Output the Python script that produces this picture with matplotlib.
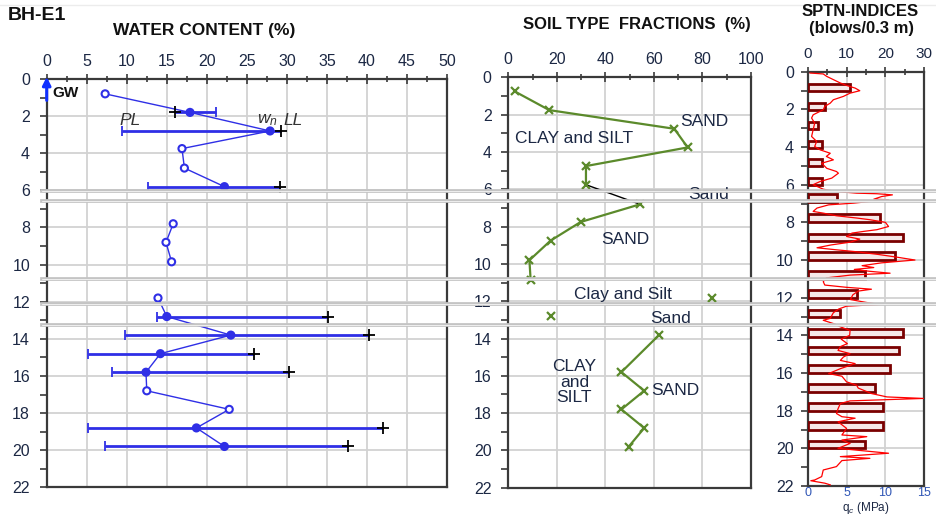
import numpy as np
import matplotlib
matplotlib.use("Agg")
import matplotlib.pyplot as plt
from matplotlib.lines import Line2D
import matplotlib.transforms as mtransforms
from matplotlib.ticker import MultipleLocator

plt.rcParams['font.family'] = ['Liberation Sans', 'DejaVu Sans']
plt.rcParams['mathtext.fontset'] = 'custom'
plt.rcParams['mathtext.rm'] = 'Liberation Sans'
plt.rcParams['mathtext.it'] = 'Liberation Sans:italic'

# ---------------- data ----------------
# Water content panel
wc_depth = [0.8, 1.8, 2.8, 3.75, 4.8, 5.8, 7.8, 8.8, 9.85, 11.8, 12.8, 13.8, 14.8, 15.8, 16.8, 17.8, 18.8, 19.8]
wc_value = [7.3, 17.9, 27.9, 16.9, 17.2, 22.2, 15.8, 14.9, 15.6, 13.9, 15.0, 23.0, 14.2, 12.4, 12.5, 22.8, 18.7, 22.2]
wc_group = [1, 1, 1, 1, 1, 1, 2, 2, 2, 3, 3, 3, 3, 3, 3, 3, 3, 3]

atl_depth = [1.8, 2.8, 5.8, 12.8, 13.8, 14.8, 15.8, 18.8, 19.8]
pl_value = [21.1, 9.4, 12.6, 13.8, 9.8, 5.1, 8.1, 5.1, 7.3]
ll_value = [16.0, 29.3, 29.2, 35.1, 40.2, 25.9, 30.3, 42.0, 37.6]

# Soil type fractions panel (sand fraction, %)
soil_depth = [0.75, 1.75, 2.75, 3.75, 4.75, 5.75,
              6.8, 7.75, 8.75, 9.8, 10.85,
              11.8, 12.8,
              13.8, 15.8, 16.8, 17.8, 18.8, 19.8]
soil_sand = [2.7, 16.9, 68.4, 73.9, 32.0, 32.0,
             54.3, 29.8, 17.4, 8.7, 9.2,
             84.1, 17.4,
             62.2, 46.6, 56.0, 46.6, 56.0, 49.6]
soil_group = [1, 1, 1, 1, 1, 1,
              2, 2, 2, 2, 2,
              3, 4,
              5, 5, 5, 5, 5, 5]

soil_labels = ['SAND', 'CLAY and SILT', 'Sand', 'SAND', 'Clay and Silt', 'Sand', 'CLAY\nand\nSILT', 'SAND']
soil_label_x = [80.7, 27.3, 82.6, 48.4, 47.4, 66.7, 27.2, 68.7]
soil_label_depth = [2.35, 3.27, 6.3, 8.7, 11.64, 12.94, 16.35, 16.8]

# SPT N-indices (blows/0.3 m)
spt_depth = [0.85, 1.86, 2.85, 3.86, 4.83, 5.83, 6.72, 7.77, 8.8, 9.8, 10.8, 11.8, 12.85, 13.88, 14.8, 15.8, 16.8, 17.8, 18.8, 19.8]
spt_n = [10.9, 4.5, 2.7, 3.6, 3.6, 3.6, 7.6, 18.5, 24.4, 22.5, 14.7, 12.6, 8.4, 24.4, 23.5, 21.3, 17.4, 19.4, 19.5, 14.7]

# CPT cone resistance qc (MPa)
cpt_depth = [0.07, 0.12, 0.25, 0.42, 0.6, 0.73, 0.87, 1.01, 1.14, 1.31,
             1.49, 1.67, 1.84, 2.02, 2.29, 2.46, 2.73, 3.08, 3.44, 3.7,
             3.97, 4.15, 4.33, 4.5, 4.68, 4.86, 5.13, 5.3, 5.39, 5.65,
             5.83, 6.0, 6.24, 6.36, 6.45, 6.48, 6.54, 6.63, 6.77, 6.8,
             6.89, 6.98, 7.07, 7.24, 7.42, 7.51, 7.65, 7.77, 7.86, 8.0,
             8.22, 8.39, 8.48, 8.57, 8.75, 8.89, 9.05, 9.2, 9.35, 9.45,
             9.55, 9.7, 9.85, 10.0, 10.15, 10.3, 10.4, 10.5, 10.6, 10.7,
             10.8, 10.95, 11.15, 11.33, 11.45, 11.55, 11.65, 11.85, 12.1, 12.25,
             12.36, 12.45, 12.6, 12.8, 13.1, 13.2, 13.4, 13.55, 13.74, 14.0,
             14.2, 14.44, 14.6, 14.8, 14.97, 15.15, 15.33, 15.5, 15.77, 16.03,
             16.17, 16.47, 16.65, 16.8, 17.09, 17.27, 17.35, 17.48, 17.62, 17.9,
             18.15, 18.32, 18.4, 18.59, 18.94, 19.29, 19.38, 19.56, 19.74, 20.0,
             20.26, 20.44, 20.53, 20.65, 20.97, 21.15, 21.5, 21.68, 21.72, 21.85,
             21.94]
cpt_qc = [0.3, 2.0, 2.45, 3.3, 4.2, 5.0, 6.1, 6.7, 5.45, 4.6,
          3.3, 2.9, 2.2, 2.0, 0.7, 0.5, 0.9, 0.7, 0.5, 1.15,
          0.9, 1.6, 2.9, 2.4, 3.3, 1.8, 2.45, 3.7, 3.95, 3.1,
          1.6, 0.7, 2.0, 3.7, 6.3, 8.9, 10.9, 9.5, 8.5, 10.4,
          8.0, 5.9, 2.7, 1.2, 0.7, 2.0, 3.7, 6.3, 8.0, 10.0,
          10.4, 8.9, 7.2, 5.7, 5.0, 6.7, 5.5, 3.0, 1.2, 3.5,
          6.0, 9.0, 11.5, 13.8, 9.5, 7.0, 8.5, 6.0, 8.0, 10.6,
          5.5, 2.4, 2.0, 2.2, 5.0, 8.2, 6.5, 5.8, 5.5, 7.5,
          9.3, 5.0, 4.0, 3.3, 2.9, 2.0, 3.5, 4.2, 5.45, 5.4,
          4.3, 5.1, 4.2, 3.9, 5.45, 4.6, 4.2, 6.1, 4.2, 2.7,
          4.4, 5.0, 6.3, 6.5, 8.2, 10.2, 14.9, 5.45, 4.2, 3.9,
          3.7, 4.4, 6.1, 3.9, 5.0, 4.4, 7.6, 4.4, 5.45, 3.9,
          10.4, 4.2, 8.0, 4.4, 3.7, 2.0, 1.8, 0.9, 0.4, 2.2,
          2.9]

layer_depths = [6.03, 6.57, 10.79, 12.12, 13.28]

# ---------------- styling ----------------
TXT = '#1c2844'
SPINE = '#3a3a3a'
GRID = '#d2d2d2'
BLUE = '#2f2fe6'
GREEN = '#5b8a2b'

W, H = 937, 516
fig = plt.figure(figsize=(W / 100, H / 100), dpi=100)
fig.patch.set_facecolor('white')

ax1 = fig.add_axes([46.7 / W, 1 - 487.3 / H, (447 - 46.7) / W, (487.3 - 79) / H])
ax2 = fig.add_axes([508.3 / W, 1 - 487.7 / H, (751 - 508.3) / W, (487.7 - 77.5) / H])
ax3 = fig.add_axes([807.7 / W, 1 - 486 / H, (924.3 - 807.7) / W, (486 - 71.7) / H])


def style(ax, xmax, xmaj, xmin, xlsize=11.5, ylsize=11.5, ypad=7):
    ax.set_xlim(0, xmax)
    ax.set_ylim(22, 0)
    ax.xaxis.set_major_locator(MultipleLocator(xmaj))
    ax.xaxis.set_minor_locator(MultipleLocator(xmin))
    ax.yaxis.set_major_locator(MultipleLocator(2))
    ax.yaxis.set_minor_locator(MultipleLocator(1))
    ax.xaxis.tick_top()
    ax.grid(True, which='major', color=GRID, lw=1.3)
    ax.set_axisbelow(True)
    for s in ax.spines.values():
        s.set_color(SPINE)
        s.set_linewidth(1.6)
    ax.tick_params(axis='x', which='both', direction='inout', color=SPINE,
                   labelcolor=TXT, labelsize=xlsize, pad=4)
    ax.tick_params(axis='x', which='major', length=7, width=1.2)
    ax.tick_params(axis='x', which='minor', length=5, width=1.2)
    ax.tick_params(axis='y', which='both', direction='out', color=SPINE,
                   labelcolor=TXT, labelsize=ylsize, pad=ypad)
    ax.tick_params(axis='y', which='major', length=5, width=1.2)
    ax.tick_params(axis='y', which='minor', length=5, width=1.2)


style(ax1, 50, 5, 2.5)
style(ax2, 100, 20, 10)

# ---------------- panel 1: water content ----------------
for g in sorted(set(wc_group)):
    idx = [i for i, gg in enumerate(wc_group) if gg == g]
    ax1.plot([wc_value[i] for i in idx], [wc_depth[i] for i in idx],
             color=BLUE, lw=1.0, zorder=3)
ax1.hlines(atl_depth, pl_value, ll_value, color=BLUE, lw=2.0, zorder=4)
ax1.plot(pl_value, atl_depth, ls='none', marker='|', color=BLUE, ms=7, mew=1.3, zorder=5)
ax1.plot(ll_value, atl_depth, ls='none', marker='+', color='black', ms=8, mew=1.3, zorder=5)
face = [BLUE if d in atl_depth else 'white' for d in wc_depth]
ax1.scatter(wc_value, wc_depth, s=26, facecolors=face, edgecolors=BLUE, linewidths=1.5, zorder=6)

ax1.annotate('', xy=(0, -0.12), xytext=(0, 1.15), annotation_clip=False,
             arrowprops=dict(arrowstyle='-|>', color='#1030ff', lw=2.2, mutation_scale=12,
                             shrinkA=0, shrinkB=0), zorder=7)
ax1.text(0.7, 0.78, 'GW', fontsize=11, fontweight='bold', color='#111111', va='center', ha='left')
ax1.text(9.1, 2.22, 'PL', fontsize=12.5, style='italic', color='#333333', va='center', ha='left')
ax1.text(26.3, 2.22, r'$w_n$', fontsize=12.5, color='#333333', va='center', ha='left')
ax1.text(29.6, 2.22, 'LL', fontsize=12.5, style='italic', color='#333333', va='center', ha='left')

# ---------------- panel 2: soil fractions ----------------
groups = sorted(set(soil_group))
for g in groups:
    idx = [i for i, gg in enumerate(soil_group) if gg == g]
    ax2.plot([soil_sand[i] for i in idx], [soil_depth[i] for i in idx],
             color=GREEN, lw=1.6, marker='x', ms=6, mew=1.6, zorder=4)
# black connector between first two groups
i_end = max(i for i, gg in enumerate(soil_group) if gg == 1)
i_start = min(i for i, gg in enumerate(soil_group) if gg == 2)
ax2.plot([soil_sand[i_end], soil_sand[i_start]], [soil_depth[i_end], soil_depth[i_start]],
         color='black', lw=1.0, zorder=3)

for lab, x, d in zip(soil_labels, soil_label_x, soil_label_depth):
    ax2.text(x, d, lab, fontsize=12.5, color=TXT, ha='center', va='center', linespacing=1.05, zorder=5)

# ---------------- panel 3: SPT + CPT ----------------
ax3b = ax3.twiny()
style(ax3, 30, 10, 5, xlsize=11, ylsize=11.5, ypad=5)
ax3.xaxis.tick_top()
ax3.xaxis.set_label_position('top')
ax3.barh(spt_depth, spt_n, height=0.4, left=0, color='#f6e8e8', edgecolor='#7a0000',
         linewidth=2.0, zorder=3)
ax3b.set_xlim(0, 15)
ax3b.set_ylim(22, 0)
ax3b.plot(cpt_qc, cpt_depth, color='#ff0000', lw=0.9, zorder=5)
ax3b.xaxis.tick_bottom()
ax3b.xaxis.set_label_position('bottom')
ax3b.xaxis.set_major_locator(MultipleLocator(5))
for s in ax3b.spines.values():
    s.set_visible(False)
ax3b.tick_params(axis='x', which='both', length=0, labelcolor='#2f55b5',
                 labelsize=9, pad=1)
ax3b.set_xlabel(r'q$_c$ (MPa)', fontsize=8.5, color=TXT, labelpad=0.5)

# ---------------- layer boundary lines ----------------
trans = mtransforms.blended_transform_factory(fig.transFigure, ax1.transData)
for d in layer_depths:
    fig.add_artist(Line2D([0.045, 1.0], [d, d], transform=trans, color='#c4c4c4', lw=2.7, zorder=10))
    fig.add_artist(Line2D([0.045, 1.0], [d, d], transform=trans, color='white', lw=0.5, zorder=11))

fig.add_artist(Line2D([0, 1], [1 - 5 / H, 1 - 5 / H], transform=fig.transFigure, color='#ececec', lw=1.0))

# ---------------- titles ----------------
fig.text(8 / W, 1 - 16 / H, 'BH-E1', fontsize=14, fontweight='bold', color='#111111', ha='left', va='center')
fig.text(204 / W, 1 - 30.5 / H, 'WATER CONTENT (%)', fontsize=12.5, fontweight='bold', color='#111111',
         ha='center', va='center')
fig.text(636.7 / W, 1 - 24 / H, 'SOIL TYPE  FRACTIONS  (%)', fontsize=12, fontweight='bold', color='#111111',
         ha='center', va='center')
fig.text(860 / W, 1 - 11.7 / H, 'SPTN-INDICES', fontsize=12, fontweight='bold', color='#111111',
         ha='center', va='center')
fig.text(861.7 / W, 1 - 29 / H, '(blows/0.3 m)', fontsize=12, fontweight='bold', color='#111111',
         ha='center', va='center')

fig.savefig('out.png', dpi=100)
